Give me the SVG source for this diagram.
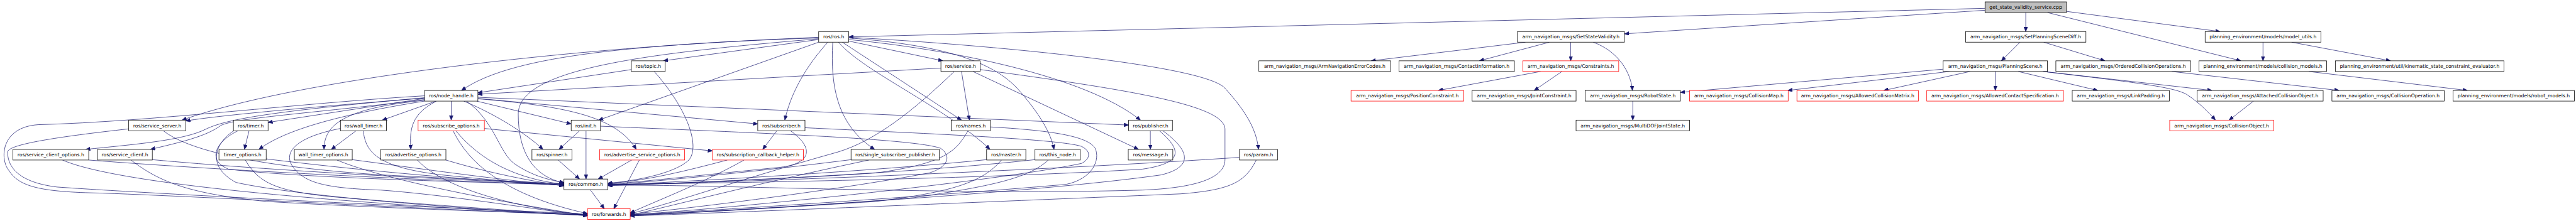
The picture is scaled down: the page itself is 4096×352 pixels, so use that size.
<svg xmlns="http://www.w3.org/2000/svg" width="4096" height="352" viewBox="0 0 4096 352">
<defs>
<marker id="ah" markerUnits="userSpaceOnUse" markerWidth="12" markerHeight="10" refX="12" refY="5" orient="auto"><path d="M0,0 L12,5 L0,10 z" fill="#191970" stroke="#191970" stroke-width="1"/></marker>
</defs>
<style>
.n rect{fill:#fff;stroke:#000;stroke-width:1.3}
.r rect{stroke:#ff0000}
.g rect{fill:#bfbfbf}
.n text{font-family:"DejaVu Sans","Liberation Sans",sans-serif;font-size:12.7px;fill:#000;text-anchor:middle}
#edges path{fill:none;stroke:#191970;stroke-width:1.2;marker-end:url(#ah)}
</style>
<rect x="0" y="0" width="4096" height="352" fill="#fff"/>
<g transform="scale(0.60547)">
<g id="edges">
<path d="M5213,22 L2229,97"/>
<path d="M5213,27 L4266,89"/>
<path d="M5320,33 L5320,83"/>
<path d="M5427,30 L5830,83"/>
<path d="M5377,33 L5885,160"/>
<path d="M5943,111 L5943,160"/>
<path d="M6018,111 L6278,160"/>
<path d="M6063,188 L6480,238"/>
<path d="M5305,111 L5256,160"/>
<path d="M5367,111 L5528,160"/>
<path d="M5703,188 L6143,238"/>
<path d="M5240,188 L5240,238"/>
<path d="M5300,188 L5509,238"/>
<path d="M5365,188 L5809,238"/>
<path d="M5365,188 C5620,218 5715,230 5745,250 C5775,270 5800,295 5818,316"/>
<path d="M5120,188 L4695,238"/>
<path d="M5174,188 L4947,238"/>
<path d="M5103,182 L4413,243"/>
<path d="M5918,266 L5854,316"/>
<path d="M4125,111 L4125,160"/>
<path d="M4184,111 C4250,135 4283,190 4287,238"/>
<path d="M4006,111 L3601,160"/>
<path d="M4069,111 L3885,160"/>
<path d="M4046,188 L3777,238"/>
<path d="M4102,188 L4029,238"/>
<path d="M4288,266 L4288,316"/>
<path d="M2150,104 L1742,160"/>
<path d="M2150,98 C1700,118 1350,140 1212,238"/>
<path d="M2150,100 C1600,115 800,200 478,316"/>
<path d="M2150,102 C1700,140 1361,180 1361,300 C1361,400 1400,465 1481,481"/>
<path d="M2150,111 L1572,316"/>
<path d="M2174,111 C2130,160 2080,230 2061,316"/>
<path d="M2187,111 C2180,230 2200,330 2297,393"/>
<path d="M2202,111 C2270,190 2480,280 2600,393"/>
<path d="M2212,111 L2525,316"/>
<path d="M2229,108 L2476,160"/>
<path d="M2229,100 C2500,120 2620,170 2680,242 C2730,300 2760,350 2768,393"/>
<path d="M2229,104 C2500,130 2850,200 2995,316"/>
<path d="M2229,98 C2600,118 3150,170 3215,230 C3270,290 3300,340 3305,393"/>
<path d="M2471,179 L1255,248"/>
<path d="M2525,188 L2546,316"/>
<path d="M2555,188 L2990,393"/>
<path d="M2506,188 C2400,290 2300,370 2200,400 C1950,470 1750,540 1655,562"/>
<path d="M2574,183 C3000,240 3217,280 3217,340 L3217,420 C3217,480 3100,496 3000,500 C2500,515 1800,482 1596,488"/>
<path d="M1658,183 L1255,244"/>
<path d="M1718,188 C1800,280 1840,380 1810,420 C1770,460 1650,478 1596,482"/>
<path d="M1185,266 L1185,316"/>
<path d="M1115,258 C900,275 600,300 488,318"/>
<path d="M1115,257 C750,290 600,310 540,340 C480,370 350,380 225,393"/>
<path d="M1115,262 C800,300 620,310 580,330 C540,360 470,375 395,393"/>
<path d="M1115,259 L704,322"/>
<path d="M1115,266 C900,300 750,340 680,393"/>
<path d="M1145,266 L1004,316"/>
<path d="M1115,264 C900,285 851,330 851,393"/>
<path d="M1146,266 C1080,300 1075,340 1079,393"/>
<path d="M1218,266 C1300,300 1380,350 1426,393"/>
<path d="M1252,266 L1500,326"/>
<path d="M1255,259 L1990,326"/>
<path d="M1255,256 L2964,329"/>
<path d="M1256,260 C1500,280 1620,310 1671,393"/>
<path d="M1225,266 C1300,320 1310,400 1350,430 C1400,465 1450,475 1481,480"/>
<path d="M1115,252 C800,270 400,320 100,328 C0,335 0,420 23,448 C50,490 100,505 268,508 C600,520 1300,560 1543,565"/>
<path d="M338,339 C150,360 20,380 20,400 C20,440 50,480 150,492 C400,510 1300,555 1543,562"/>
<path d="M429,344 C500,400 700,440 1000,460 C1300,475 1450,482 1481,483"/>
<path d="M233,421 C600,450 1200,478 1481,486"/>
<path d="M164,421 C300,480 800,530 1543,567"/>
<path d="M400,420 C700,448 1200,475 1481,484"/>
<path d="M344,421 C420,480 500,510 700,530 C1000,548 1400,560 1543,565"/>
<path d="M654,344 L642,393"/>
<path d="M625,344 C570,370 540,420 600,445 C800,470 1300,480 1481,486"/>
<path d="M614,344 C560,380 545,440 620,480 C800,520 1300,555 1543,567"/>
<path d="M699,418 C1000,455 1300,478 1481,487"/>
<path d="M644,421 C680,480 720,505 900,520 C1200,545 1450,560 1543,567"/>
<path d="M935,344 L870,393"/>
<path d="M954,344 C960,400 990,440 1160,460 C1300,475 1420,483 1481,488"/>
<path d="M894,338 C780,360 740,400 770,440 C800,480 850,495 1000,500 C1200,515 1450,558 1543,567"/>
<path d="M925,420 C1150,450 1350,478 1481,488"/>
<path d="M885,421 C1000,470 1300,530 1543,567"/>
<path d="M1171,421 C1300,460 1420,480 1481,489"/>
<path d="M1096,421 C1150,480 1300,540 1543,566"/>
<path d="M1197,344 C1260,420 1350,470 1481,485"/>
<path d="M1190,344 C1250,470 1400,530 1543,562"/>
<path d="M1272,338 L1871,397"/>
<path d="M1522,344 L1468,393"/>
<path d="M1539,344 L1539,471"/>
<path d="M1577,332 C2000,350 2400,365 2470,390 C2500,410 2490,440 2440,455 C2200,500 1800,550 1655,563"/>
<path d="M1466,421 L1522,471"/>
<path d="M1659,421 L1571,471"/>
<path d="M1679,421 L1612,549"/>
<path d="M1550,499 L1587,549"/>
<path d="M2040,344 L2003,393"/>
<path d="M2076,344 C2140,390 2130,430 2050,440 C1800,465 1650,482 1596,484"/>
<path d="M2114,336 C2400,350 2780,365 2840,385 C2870,400 2860,420 2840,430 C2600,480 1900,550 1655,565"/>
<path d="M1910,421 C1800,450 1700,475 1596,483"/>
<path d="M1954,421 C1850,480 1720,530 1655,560"/>
<path d="M2235,420 C2000,450 1700,480 1596,486"/>
<path d="M2282,421 C2000,480 1750,545 1655,566"/>
<path d="M2542,344 C2510,400 2480,430 2300,455 C2000,475 1700,485 1596,486"/>
<path d="M2601,334 C2800,345 2860,365 2876,390 C2890,420 2870,470 2800,485 C2400,520 1800,558 1655,565"/>
<path d="M2591,420 C2300,450 1800,478 1596,487"/>
<path d="M2630,421 C2580,480 2500,505 2300,530 C2000,550 1750,562 1655,567"/>
<path d="M2718,420 C2400,455 1900,478 1596,488"/>
<path d="M2753,421 C2700,470 2600,490 2400,520 C2100,545 1800,560 1655,568"/>
<path d="M3021,344 L3021,393"/>
<path d="M3045,344 C3110,400 3100,430 3000,445 C2600,470 1900,482 1596,485"/>
<path d="M3054,344 C3130,400 3130,440 3050,460 C2700,510 1900,555 1655,566"/>
<path d="M3255,414 C2800,445 2000,478 1596,487"/>
<path d="M3299,421 C3270,480 3230,500 3100,510 C2500,535 1900,560 1655,568"/>
</g>
<g id="cpp" class="n g"><rect x="5213" y="5" width="214" height="28"/><text x="5320" y="23.5">get_state_validity_service.cpp</text></g>
<g id="ros_h" class="n"><rect x="2150" y="83" width="79" height="28"/><text x="2189.5" y="101.5">ros/ros.h</text></g>
<g id="gsv" class="n"><rect x="3985" y="83" width="281" height="28"/><text x="4125.5" y="101.5">arm_navigation_msgs/GetStateValidity.h</text></g>
<g id="spsd" class="n"><rect x="5162" y="83" width="316" height="28"/><text x="5320" y="101.5">arm_navigation_msgs/SetPlanningSceneDiff.h</text></g>
<g id="mu" class="n"><rect x="5791" y="83" width="304" height="28"/><text x="5943" y="101.5">planning_environment/models/model_utils.h</text></g>
<g id="topic" class="n"><rect x="1658" y="160" width="89" height="28"/><text x="1702.5" y="178.5">ros/topic.h</text></g>
<g id="service" class="n"><rect x="2471" y="160" width="103" height="28"/><text x="2522.5" y="178.5">ros/service.h</text></g>
<g id="anec" class="n"><rect x="3306" y="160" width="346" height="28"/><text x="3479" y="178.5">arm_navigation_msgs/ArmNavigationErrorCodes.h</text></g>
<g id="ci" class="n"><rect x="3674" y="160" width="303" height="28"/><text x="3825.5" y="178.5">arm_navigation_msgs/ContactInformation.h</text></g>
<g id="cons" class="n r"><rect x="3999" y="160" width="252" height="28"/><text x="4125" y="178.5">arm_navigation_msgs/Constraints.h</text></g>
<g id="ps" class="n"><rect x="5103" y="160" width="274" height="28"/><text x="5240" y="178.5">arm_navigation_msgs/PlanningScene.h</text></g>
<g id="oco" class="n"><rect x="5399" y="160" width="354" height="28"/><text x="5576" y="178.5">arm_navigation_msgs/OrderedCollisionOperations.h</text></g>
<g id="cm" class="n"><rect x="5775" y="160" width="335" height="28"/><text x="5942.5" y="178.5">planning_environment/models/collision_models.h</text></g>
<g id="ksce" class="n"><rect x="6133" y="160" width="443" height="28"/><text x="6354.5" y="178.5">planning_environment/util/kinematic_state_constraint_evaluator.h</text></g>
<g id="nh" class="n"><rect x="1115" y="238" width="140" height="28"/><text x="1185" y="256.5">ros/node_handle.h</text></g>
<g id="pc" class="n r"><rect x="3548" y="238" width="296" height="28"/><text x="3696" y="256.5">arm_navigation_msgs/PositionConstraint.h</text></g>
<g id="jc" class="n"><rect x="3866" y="238" width="273" height="28"/><text x="4002.5" y="256.5">arm_navigation_msgs/JointConstraint.h</text></g>
<g id="rs" class="n"><rect x="4163" y="238" width="250" height="28"/><text x="4288" y="256.5">arm_navigation_msgs/RobotState.h</text></g>
<g id="cmap" class="n r"><rect x="4437" y="238" width="259" height="28"/><text x="4566.5" y="256.5">arm_navigation_msgs/CollisionMap.h</text></g>
<g id="acm" class="n r"><rect x="4719" y="238" width="319" height="28"/><text x="4878.5" y="256.5">arm_navigation_msgs/AllowedCollisionMatrix.h</text></g>
<g id="acs" class="n r"><rect x="5060" y="238" width="359" height="28"/><text x="5239.5" y="256.5">arm_navigation_msgs/AllowedContactSpecification.h</text></g>
<g id="lp" class="n"><rect x="5442" y="238" width="255" height="28"/><text x="5569.5" y="256.5">arm_navigation_msgs/LinkPadding.h</text></g>
<g id="aco" class="n"><rect x="5770" y="238" width="331" height="28"/><text x="5935.5" y="256.5">arm_navigation_msgs/AttachedCollisionObject.h</text></g>
<g id="coop" class="n"><rect x="6124" y="238" width="295" height="28"/><text x="6271.5" y="256.5">arm_navigation_msgs/CollisionOperation.h</text></g>
<g id="rm" class="n"><rect x="6442" y="238" width="319" height="28"/><text x="6601.5" y="256.5">planning_environment/models/robot_models.h</text></g>
<g id="ss" class="n"><rect x="338" y="316" width="150" height="28"/><text x="413" y="334.5">ros/service_server.h</text></g>
<g id="timer" class="n"><rect x="613" y="316" width="91" height="28"/><text x="658.5" y="334.5">ros/timer.h</text></g>
<g id="wt" class="n"><rect x="894" y="316" width="121" height="28"/><text x="954.5" y="334.5">ros/wall_timer.h</text></g>
<g id="so" class="n r"><rect x="1098" y="316" width="174" height="28"/><text x="1185" y="334.5">ros/subscribe_options.h</text></g>
<g id="init" class="n"><rect x="1500" y="316" width="77" height="28"/><text x="1538.5" y="334.5">ros/init.h</text></g>
<g id="sub" class="n"><rect x="1990" y="316" width="124" height="28"/><text x="2052" y="334.5">ros/subscriber.h</text></g>
<g id="names" class="n"><rect x="2498" y="316" width="103" height="28"/><text x="2549.5" y="334.5">ros/names.h</text></g>
<g id="pub" class="n"><rect x="2964" y="316" width="115" height="28"/><text x="3021.5" y="334.5">ros/publisher.h</text></g>
<g id="mdof" class="n"><rect x="4139" y="316" width="298" height="28"/><text x="4288" y="334.5">arm_navigation_msgs/MultiDOFJointState.h</text></g>
<g id="cobj" class="n r"><rect x="5698" y="316" width="273" height="28"/><text x="5834.5" y="334.5">arm_navigation_msgs/CollisionObject.h</text></g>
<g id="sco" class="n"><rect x="34" y="393" width="199" height="28"/><text x="133.5" y="411.5">ros/service_client_options.h</text></g>
<g id="sc" class="n"><rect x="256" y="393" width="144" height="28"/><text x="328" y="411.5">ros/service_client.h</text></g>
<g id="to" class="n"><rect x="575" y="393" width="124" height="28"/><text x="637" y="411.5">timer_options.h</text></g>
<g id="wto" class="n"><rect x="773" y="393" width="152" height="28"/><text x="849" y="411.5">wall_timer_options.h</text></g>
<g id="ao" class="n"><rect x="1000" y="393" width="171" height="28"/><text x="1085.5" y="411.5">ros/advertise_options.h</text></g>
<g id="spin" class="n"><rect x="1397" y="393" width="105" height="28"/><text x="1449.5" y="411.5">ros/spinner.h</text></g>
<g id="aso" class="n r"><rect x="1575" y="393" width="223" height="28"/><text x="1686.5" y="411.5">ros/advertise_service_options.h</text></g>
<g id="sch" class="n r"><rect x="1871" y="393" width="239" height="28"/><text x="1990.5" y="411.5">ros/subscription_callback_helper.h</text></g>
<g id="ssp" class="n"><rect x="2235" y="393" width="232" height="28"/><text x="2351" y="411.5">ros/single_subscriber_publisher.h</text></g>
<g id="master" class="n"><rect x="2591" y="393" width="103" height="28"/><text x="2642.5" y="411.5">ros/master.h</text></g>
<g id="tn" class="n"><rect x="2718" y="393" width="119" height="28"/><text x="2777.5" y="411.5">ros/this_node.h</text></g>
<g id="msg" class="n"><rect x="2963" y="393" width="117" height="28"/><text x="3021.5" y="411.5">ros/message.h</text></g>
<g id="param" class="n"><rect x="3255" y="393" width="100" height="28"/><text x="3305" y="411.5">ros/param.h</text></g>
<g id="common" class="n"><rect x="1481" y="471" width="115" height="28"/><text x="1538.5" y="489.5">ros/common.h</text></g>
<g id="fwd" class="n r"><rect x="1543" y="549" width="112" height="28"/><text x="1599" y="567.5">ros/forwards.h</text></g>
</g>
</svg>
